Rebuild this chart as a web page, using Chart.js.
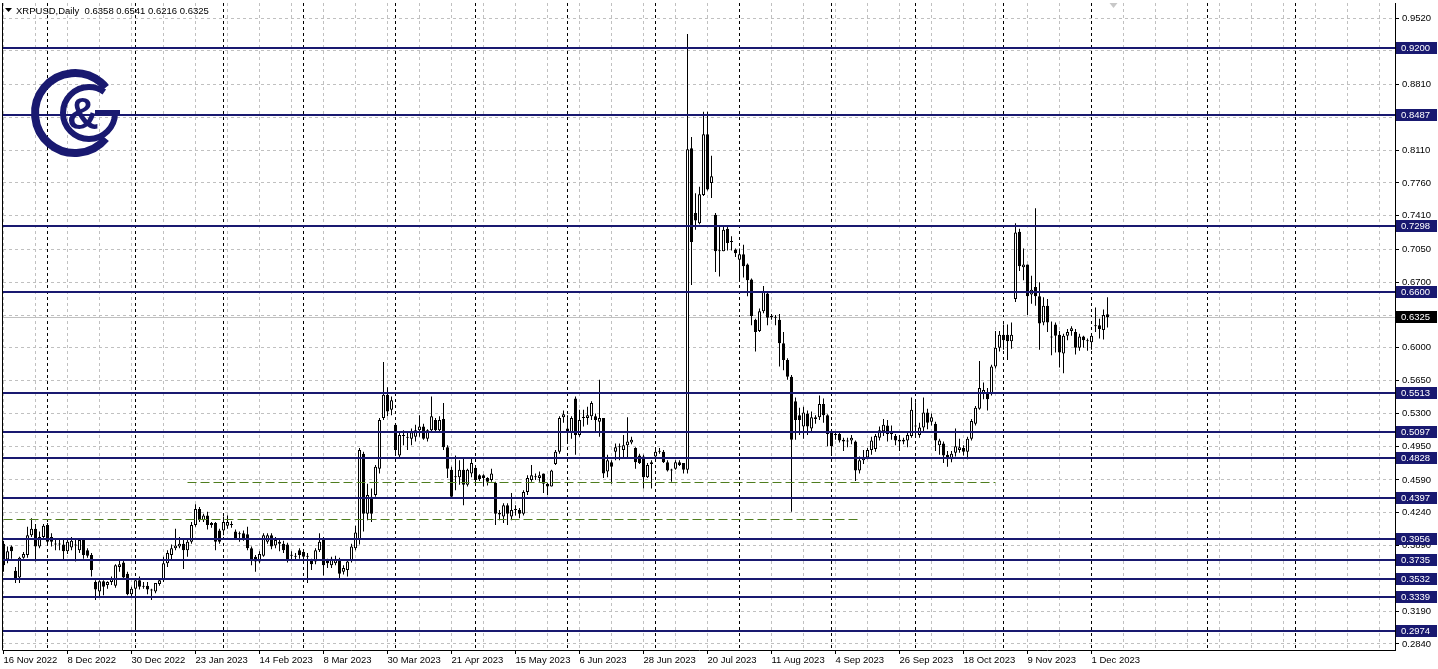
<!DOCTYPE html>
<html lang="en">
<head>
<meta charset="UTF-8">
<title>XRPUSD Daily</title>
<script src="https://cdn.jsdelivr.net/npm/chart.js@4"></script>
<style>
  html, body { margin: 0; padding: 0; background: #fff; }
  #wrap { width: 1438px; height: 669px; }
</style>
</head>
<body>
<div id="wrap"><canvas id="chart" width="1438" height="669"></canvas></div>
<script>
// daily bars, one per weekday from 16 Nov 2022 (bar 0) to 7 Dec 2023 (bar 276)
const opens = [
  0.391,0.374,0.388,0.362,0.355,0.376,0.379,0.400,0.407,0.388,
  0.398,0.411,0.398,0.391,0.390,0.390,0.383,0.387,0.390,0.384,
  0.395,0.384,0.379,0.350,0.340,0.351,0.347,0.350,0.346,0.366,
  0.371,0.359,0.337,0.343,0.352,0.346,0.346,0.341,0.340,0.348,
  0.352,0.370,0.379,0.386,0.388,0.391,0.384,0.393,0.411,0.428,
  0.416,0.421,0.411,0.413,0.405,0.405,0.410,0.412,0.404,0.401,
  0.402,0.401,0.386,0.377,0.372,0.378,0.393,0.400,0.389,0.393,
  0.391,0.390,0.379,0.377,0.384,0.382,0.377,0.373,0.372,0.384,
  0.395,0.373,0.368,0.370,0.374,0.361,0.363,0.373,0.386,0.395,
  0.487,0.423,0.441,0.443,0.471,0.525,0.550,0.534,0.518,0.485,
  0.506,0.504,0.503,0.505,0.512,0.516,0.503,0.512,0.523,0.512,
  0.524,0.494,0.470,0.462,0.462,0.470,0.454,0.466,0.472,0.464,
  0.464,0.461,0.459,0.456,0.424,0.420,0.432,0.420,0.427,0.427,
  0.423,0.446,0.459,0.462,0.461,0.466,0.455,0.452,0.476,0.489,
  0.526,0.514,0.510,0.546,0.507,0.525,0.525,0.527,0.527,0.521,
  0.525,0.468,0.478,0.489,0.494,0.491,0.496,0.499,0.493,0.485,
  0.484,0.462,0.476,0.484,0.489,0.489,0.478,0.469,0.471,0.478,
  0.477,0.470,0.813,0.744,0.733,0.763,0.828,0.776,0.742,0.703,
  0.703,0.727,0.713,0.705,0.694,0.700,0.689,0.673,0.630,0.618,
  0.639,0.658,0.633,0.632,0.630,0.605,0.587,0.569,0.543,0.528,
  0.516,0.530,0.514,0.526,0.526,0.540,0.528,0.509,0.508,0.508,
  0.502,0.500,0.501,0.500,0.469,0.480,0.483,0.491,0.492,0.504,
  0.511,0.517,0.508,0.506,0.502,0.502,0.501,0.506,0.517,0.507,
  0.515,0.531,0.521,0.519,0.496,0.498,0.486,0.481,0.488,0.491,
  0.493,0.489,0.503,0.519,0.535,0.551,0.551,0.551,0.580,0.600,
  0.614,0.614,0.607,0.652,0.724,0.686,0.689,0.657,0.665,0.655,
  0.627,0.645,0.612,0.625,0.614,0.594,0.613,0.618,0.617,0.600,
  0.612,0.608,0.606,0.624,0.624,0.619,0.6358
];
const highs = [
  0.394,0.388,0.389,0.366,0.377,0.382,0.409,0.418,0.412,0.404,
  0.412,0.413,0.402,0.395,0.395,0.397,0.396,0.398,0.395,0.397,
  0.397,0.386,0.381,0.352,0.352,0.352,0.351,0.356,0.369,0.373,
  0.374,0.361,0.345,0.354,0.356,0.350,0.350,0.343,0.349,0.353,
  0.377,0.384,0.390,0.407,0.398,0.397,0.397,0.414,0.433,0.430,
  0.423,0.425,0.414,0.414,0.407,0.420,0.421,0.415,0.406,0.404,
  0.405,0.409,0.388,0.379,0.383,0.402,0.402,0.402,0.398,0.395,
  0.394,0.392,0.383,0.381,0.386,0.384,0.381,0.375,0.386,0.402,
  0.398,0.375,0.377,0.378,0.376,0.368,0.374,0.391,0.410,0.493,
  0.489,0.455,0.450,0.475,0.525,0.585,0.558,0.548,0.519,0.509,
  0.512,0.509,0.514,0.518,0.528,0.519,0.513,0.548,0.525,0.527,
  0.541,0.496,0.473,0.485,0.480,0.482,0.471,0.482,0.473,0.465,
  0.465,0.462,0.471,0.457,0.427,0.434,0.434,0.445,0.432,0.429,
  0.448,0.464,0.475,0.466,0.468,0.466,0.456,0.470,0.491,0.527,
  0.533,0.528,0.527,0.548,0.534,0.534,0.537,0.543,0.530,0.566,
  0.525,0.486,0.480,0.498,0.498,0.507,0.526,0.505,0.494,0.487,
  0.486,0.477,0.480,0.493,0.493,0.491,0.480,0.471,0.480,0.480,
  0.477,0.935,0.825,0.765,0.772,0.852,0.852,0.805,0.744,0.731,
  0.731,0.731,0.719,0.706,0.706,0.710,0.690,0.674,0.631,0.642,
  0.666,0.660,0.636,0.635,0.636,0.617,0.589,0.571,0.547,0.536,
  0.537,0.533,0.532,0.528,0.549,0.546,0.529,0.511,0.511,0.510,
  0.504,0.504,0.507,0.501,0.484,0.491,0.493,0.505,0.508,0.516,
  0.524,0.523,0.517,0.508,0.507,0.504,0.509,0.547,0.542,0.520,
  0.547,0.535,0.530,0.521,0.503,0.500,0.490,0.490,0.514,0.503,
  0.496,0.505,0.524,0.538,0.586,0.563,0.557,0.582,0.618,0.618,
  0.625,0.625,0.627,0.733,0.727,0.706,0.689,0.677,0.749,0.670,
  0.654,0.652,0.628,0.627,0.618,0.615,0.620,0.623,0.620,0.615,
  0.613,0.610,0.614,0.643,0.631,0.641,0.6541
];
const lows = [
  0.361,0.370,0.375,0.349,0.349,0.375,0.376,0.398,0.372,0.386,
  0.396,0.391,0.388,0.384,0.384,0.374,0.380,0.384,0.372,0.381,
  0.375,0.376,0.356,0.331,0.334,0.336,0.343,0.347,0.344,0.361,
  0.354,0.336,0.334,0.2974,0.342,0.343,0.337,0.331,0.338,0.346,
  0.350,0.366,0.374,0.384,0.386,0.364,0.377,0.391,0.409,0.414,
  0.414,0.406,0.408,0.384,0.391,0.400,0.407,0.408,0.396,0.393,
  0.394,0.384,0.368,0.361,0.370,0.377,0.391,0.385,0.386,0.383,
  0.381,0.371,0.374,0.374,0.375,0.371,0.349,0.363,0.369,0.382,
  0.357,0.365,0.365,0.368,0.354,0.358,0.356,0.371,0.384,0.390,
  0.404,0.416,0.414,0.441,0.466,0.523,0.527,0.528,0.487,0.482,
  0.496,0.491,0.496,0.500,0.505,0.502,0.500,0.510,0.509,0.510,
  0.491,0.461,0.439,0.448,0.454,0.432,0.452,0.462,0.454,0.458,
  0.452,0.453,0.457,0.411,0.416,0.413,0.411,0.416,0.421,0.418,
  0.421,0.443,0.457,0.459,0.457,0.445,0.443,0.452,0.475,0.487,
  0.520,0.500,0.503,0.486,0.505,0.516,0.518,0.523,0.509,0.505,
  0.461,0.462,0.455,0.480,0.480,0.482,0.482,0.497,0.471,0.476,
  0.450,0.461,0.450,0.482,0.487,0.477,0.468,0.457,0.470,0.474,
  0.466,0.466,0.667,0.726,0.732,0.762,0.768,0.760,0.681,0.676,
  0.703,0.704,0.704,0.697,0.672,0.675,0.655,0.624,0.596,0.617,
  0.637,0.624,0.630,0.624,0.580,0.576,0.566,0.425,0.502,0.507,
  0.503,0.507,0.509,0.519,0.523,0.520,0.495,0.485,0.502,0.499,
  0.490,0.494,0.497,0.458,0.466,0.476,0.481,0.486,0.489,0.501,
  0.506,0.500,0.502,0.496,0.490,0.497,0.494,0.504,0.507,0.504,
  0.511,0.513,0.517,0.490,0.486,0.477,0.473,0.478,0.484,0.488,
  0.485,0.481,0.501,0.517,0.534,0.545,0.533,0.549,0.578,0.596,
  0.598,0.587,0.599,0.649,0.682,0.672,0.635,0.647,0.645,0.598,
  0.624,0.617,0.592,0.595,0.579,0.573,0.608,0.613,0.593,0.597,
  0.600,0.597,0.598,0.617,0.610,0.609,0.6216
];
const closes = [
  0.368,0.383,0.383,0.354,0.376,0.380,0.400,0.407,0.388,0.398,
  0.410,0.393,0.393,0.390,0.390,0.383,0.393,0.394,0.389,0.395,
  0.379,0.378,0.363,0.342,0.351,0.345,0.350,0.354,0.368,0.369,
  0.355,0.337,0.343,0.352,0.345,0.345,0.342,0.342,0.349,0.352,
  0.370,0.381,0.386,0.389,0.391,0.384,0.393,0.411,0.428,0.416,
  0.421,0.411,0.413,0.393,0.393,0.414,0.414,0.411,0.397,0.401,
  0.395,0.386,0.373,0.372,0.380,0.400,0.400,0.388,0.395,0.391,
  0.384,0.374,0.378,0.378,0.379,0.377,0.378,0.369,0.384,0.393,
  0.368,0.370,0.375,0.374,0.359,0.365,0.372,0.388,0.403,0.491,
  0.423,0.443,0.423,0.473,0.523,0.550,0.532,0.544,0.491,0.507,
  0.506,0.504,0.510,0.512,0.516,0.503,0.512,0.527,0.512,0.523,
  0.494,0.471,0.441,0.462,0.470,0.454,0.470,0.477,0.459,0.460,
  0.461,0.457,0.466,0.423,0.422,0.432,0.423,0.427,0.427,0.423,
  0.446,0.461,0.464,0.462,0.464,0.455,0.452,0.469,0.489,0.525,
  0.529,0.509,0.525,0.507,0.523,0.525,0.528,0.541,0.523,0.525,
  0.466,0.480,0.473,0.494,0.494,0.496,0.500,0.502,0.478,0.477,
  0.462,0.475,0.478,0.489,0.489,0.478,0.469,0.469,0.478,0.475,
  0.470,0.812,0.713,0.736,0.764,0.828,0.769,0.783,0.703,0.704,
  0.726,0.712,0.713,0.701,0.700,0.687,0.672,0.634,0.617,0.639,
  0.660,0.632,0.633,0.632,0.605,0.587,0.569,0.502,0.523,0.523,
  0.531,0.516,0.526,0.524,0.540,0.528,0.508,0.495,0.507,0.501,
  0.500,0.500,0.504,0.469,0.480,0.483,0.491,0.501,0.506,0.512,
  0.518,0.508,0.511,0.501,0.500,0.500,0.507,0.534,0.516,0.515,
  0.531,0.520,0.526,0.501,0.501,0.485,0.481,0.487,0.495,0.494,
  0.489,0.503,0.522,0.536,0.557,0.555,0.545,0.580,0.600,0.614,
  0.608,0.607,0.614,0.723,0.687,0.689,0.655,0.662,0.655,0.626,
  0.645,0.627,0.611,0.613,0.595,0.613,0.617,0.621,0.600,0.612,
  0.608,0.607,0.613,0.623,0.620,0.635,0.6325
];

// time axis: a label every 16 bars, a grid line every 8, month separators
const xLabels = ['16 Nov 2022','8 Dec 2022','30 Dec 2022','23 Jan 2023','14 Feb 2023','8 Mar 2023',
  '30 Mar 2023','21 Apr 2023','15 May 2023','6 Jun 2023','28 Jun 2023','20 Jul 2023','11 Aug 2023',
  '4 Sep 2023','26 Sep 2023','18 Oct 2023','9 Nov 2023','1 Dec 2023'];
const labelBars = [0,16,32,48,64,80,96,112,128,144,160,176,192,208,224,240,256,272];
const gridBars = [];
for (let b = 0; b <= 344; b += 8) gridBars.push(b);
const monthBars = [11,33,55,75,98,118,141,163,184,207,228,250,272,301,323];

// price axis
const yTicks = [0.9520,0.9170,0.8810,0.8460,0.8110,0.7760,0.7410,0.7050,0.6700,0.6350,
  0.6000,0.5650,0.5300,0.4950,0.4590,0.4240,0.3890,0.3540,0.3190,0.2840];

// horizontal levels drawn on the chart
const levels = [0.9200,0.8487,0.7298,0.6600,0.5513,0.5097,0.4828,0.4397,0.3956,0.3735,0.3532,0.3339,0.2974];
const greenLevels = [0.4565, 0.4172];
const greenFrom = [46, 0];
const greenTo = [248, 214];

const symbol = 'XRPUSD,Daily';
const NAVY = '#191970';
const FONT = "'Liberation Sans', Arial, sans-serif";
const FSIZE = 9.5;

const last = closes.length - 1;
const bodyColors = opens.map((o, i) => closes[i] >= o ? '#ffffff' : '#000000');

const overlay = {
  id: 'overlay',
  beforeDatasetsDraw(chart) {
    const {ctx, chartArea: a, scales: {x, y}} = chart;
    ctx.save();
    ctx.beginPath();
    ctx.rect(a.left, a.top, a.right - a.left, a.bottom - a.top);
    ctx.clip();
    // month separators
    ctx.strokeStyle = '#000';
    ctx.lineWidth = 1;
    ctx.setLineDash([3, 3]);
    monthBars.forEach(b => {
      const px = x.getPixelForValue(b);
      ctx.beginPath();
      ctx.moveTo(px, a.top);
      ctx.lineTo(px, a.bottom);
      ctx.stroke();
    });
    // last price line
    ctx.setLineDash([]);
    ctx.strokeStyle = '#c0c0c0';
    const py = Math.round(y.getPixelForValue(closes[last])) + 0.5;
    ctx.beginPath();
    ctx.moveTo(a.left, py);
    ctx.lineTo(a.right, py);
    ctx.stroke();
    ctx.restore();
  },
  afterDatasetsDraw(chart) {
    const {ctx, chartArea: a, scales: {x, y}} = chart;
    ctx.save();
    ctx.beginPath();
    ctx.rect(a.left, a.top, a.right - a.left, a.bottom - a.top);
    ctx.clip();
    ctx.strokeStyle = '#4f7d1e';
    ctx.lineWidth = 1;
    ctx.setLineDash([9, 4]);
    greenLevels.forEach((v, i) => {
      const py = Math.round(y.getPixelForValue(v)) + 0.5;
      ctx.beginPath();
      ctx.moveTo(x.getPixelForValue(greenFrom[i]), py);
      ctx.lineTo(x.getPixelForValue(greenTo[i]), py);
      ctx.stroke();
    });
    ctx.setLineDash([]);
    ctx.strokeStyle = NAVY;
    ctx.lineWidth = 2;
    levels.forEach(v => {
      const py = Math.round(y.getPixelForValue(v));
      ctx.beginPath();
      ctx.moveTo(a.left, py);
      ctx.lineTo(a.right, py);
      ctx.stroke();
    });
    ctx.restore();
  },
  afterDraw(chart) {
    const {ctx, chartArea: a, scales: {x, y}} = chart;
    ctx.save();
    // frame
    ctx.strokeStyle = '#000';
    ctx.lineWidth = 1;
    ctx.beginPath();
    ctx.moveTo(a.left - 0.5, a.top);
    ctx.lineTo(a.left - 0.5, a.bottom + 0.5);
    ctx.stroke();

    // price boxes on the axis
    ctx.font = FSIZE + 'px ' + FONT;
    ctx.textBaseline = 'middle';
    ctx.textAlign = 'left';
    const box = (v, fill) => {
      const py = Math.round(y.getPixelForValue(v));
      ctx.fillStyle = fill;
      ctx.fillRect(a.right + 1, py - 6, 41, 12);
      ctx.fillStyle = '#fff';
      ctx.fillText(v.toFixed(4), a.right + 6, py + 0.5);
    };
    levels.forEach(v => box(v, NAVY));
    box(closes[last], '#000');

    // header
    ctx.fillStyle = '#000';
    ctx.beginPath();
    ctx.moveTo(5, 8); ctx.lineTo(12, 8); ctx.lineTo(8.5, 12); ctx.closePath();
    ctx.fill();
    ctx.fillText(symbol + '  ' + [opens[last], highs[last], lows[last], closes[last]].map(v => v.toFixed(4)).join(' '), 16, 11);

    // chart shift marker
    ctx.fillStyle = '#c8c8c8';
    const mx = x.getPixelForValue(277.5);
    ctx.beginPath();
    ctx.moveTo(mx - 4, a.top); ctx.lineTo(mx + 4, a.top); ctx.lineTo(mx, a.top + 5); ctx.closePath();
    ctx.fill();

    // logo
    const cx = 75, cy = 113;
    ctx.strokeStyle = NAVY;
    ctx.lineCap = 'butt';
    ctx.lineWidth = 8;
    ctx.beginPath();
    ctx.arc(cx, cy, 40, 0.22 * Math.PI, 1.78 * Math.PI);
    ctx.stroke();
    ctx.lineWidth = 6;
    ctx.beginPath();
    ctx.arc(cx + 14, cy, 26, 0.0 * Math.PI, 1.7 * Math.PI, false);
    ctx.stroke();
    ctx.beginPath();
    ctx.moveTo(cx + 20, cy);
    ctx.lineTo(cx + 45, cy);
    ctx.stroke();
    ctx.fillStyle = NAVY;
    ctx.font = "bold 44px 'Liberation Sans', Arial, sans-serif";
    ctx.textAlign = 'center';
    ctx.fillText('&', cx + 8, cy + 4);
    ctx.restore();
  }
};

new Chart(document.getElementById('chart'), {
  type: 'bar',
  data: {
    datasets: [
      {
        label: 'body',
        data: opens.map((o, i) => ({x: i, y: [o, closes[i]]})),
        backgroundColor: bodyColors,
        borderColor: '#000',
        borderWidth: 1,
        borderSkipped: false,
        barThickness: 3,
        minBarLength: 1,
        inflateAmount: 0,
        grouped: false,
        order: 0
      },
      {
        label: 'wick',
        data: lows.map((l, i) => ({x: i, y: [l, highs[i]]})),
        backgroundColor: '#000',
        borderWidth: 0,
        barThickness: 1,
        inflateAmount: 0,
        grouped: false,
        order: 1
      }
    ]
  },
  options: {
    responsive: false,
    devicePixelRatio: 1,
    animation: false,
    layout: { padding: { left: 3, top: 3, right: 0, bottom: 0 } },
    plugins: { legend: { display: false }, tooltip: { enabled: false } },
    scales: {
      x: {
        type: 'linear',
        position: 'bottom',
        offset: false,
        min: -0.125,
        max: 347.875,
        afterBuildTicks: s => { s.ticks = gridBars.map(v => ({value: v})); },
        afterFit: s => { s.height = 19; s.paddingLeft = 0; s.paddingRight = 0; },
        ticks: {
          autoSkip: false,
          maxRotation: 0,
          align: 'start',
          padding: 1,
          color: '#000',
          font: { family: FONT, size: FSIZE },
          callback: v => { const k = labelBars.indexOf(v); return k >= 0 ? xLabels[k] : ''; }
        },
        grid: {
          offset: false,
          color: '#c0c0c0',
          tickLength: 4,
          tickColor: c => labelBars.includes(c.tick && c.tick.value) ? '#000' : 'rgba(0,0,0,0)'
        },
        border: { display: true, color: '#000', dash: [3, 3] }
      },
      y: {
        type: 'linear',
        position: 'right',
        min: 0.27751,
        max: 0.96801,
        afterBuildTicks: s => { s.ticks = yTicks.map(v => ({value: v})); },
        afterFit: s => { s.width = 43; s.paddingTop = 0; s.paddingBottom = 0; },
        ticks: {
          autoSkip: false,
          padding: 3,
          color: '#000',
          font: { family: FONT, size: FSIZE },
          callback: v => v.toFixed(4)
        },
        grid: { color: '#c0c0c0', tickLength: 4, tickColor: '#000' },
        border: { display: true, color: '#000', dash: [3, 3] }
      }
    }
  },
  plugins: [overlay]
});
</script>
</body>
</html>
